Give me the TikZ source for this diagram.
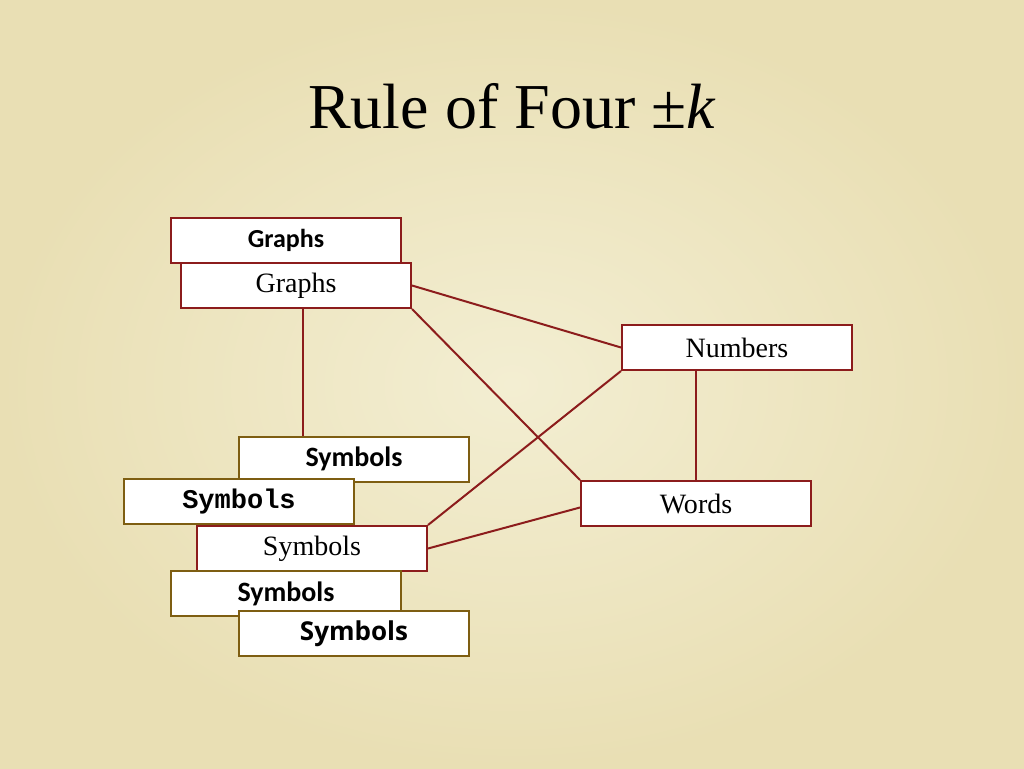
\documentclass[tikz,border=0pt]{standalone}
\usepackage{fontspec}
\setmainfont{Liberation Serif}
\newfontfamily\calibrifont{Carlito}
\newfontfamily\courierfont{Liberation Mono}
\newfontfamily\comicfont{Open Sans}
\definecolor{parchment}{HTML}{F3EED2}
\definecolor{parchmentdark}{HTML}{E9DFB4}
\definecolor{boxred}{HTML}{8C1C1C}
\definecolor{boxolive}{HTML}{7E5E12}
\tikzset{
  box/.style={draw=boxred,line width=2pt,fill=white,minimum width=230pt,minimum height=45pt,inner sep=0pt,font=\fontsize{28}{32}\selectfont},
  olivebox/.style={box,draw=boxolive},
  link/.style={draw=boxred,line width=2pt}
}
\begin{document}
\begin{tikzpicture}[x=1pt,y=-1pt]
    \useasboundingbox (0,0) rectangle (1024,768);
    \shade[inner color=parchment,outer color=parchmentdark] (0,0) rectangle (1024,768);
    \node[anchor=base,font=\fontsize{64}{70}\selectfont] (title) at (512,128) {Rule of Four ±\textit{k}};
    % top left pair
    \node[box,font=\calibrifont\bfseries\fontsize{26}{30}\selectfont] (graphsA) at (286,240) {Graphs};
    \node[box] (graphsB) at (296,285.5) {Graphs};
    % right hand boxes
    \node[box] (numbers) at (737,347.5) {Numbers};
    \node[box] (words) at (696,503.5) {Words};
    % stack of symbols
    \node[olivebox,font=\calibrifont\bfseries\fontsize{28}{32}\selectfont] (symA) at (354,459) {Symbols};
    \node[olivebox,font=\courierfont\bfseries\fontsize{27}{30}\selectfont] (symB) at (239,501.5) {Symbols};
    \node[box] (symC) at (312,548.5) {Symbols};
    \node[olivebox,font=\calibrifont\bfseries\fontsize{28}{32}\selectfont] (symD) at (286,593.5) {Symbols};
    \node[olivebox,font=\comicfont\bfseries\fontsize{26}{30}\selectfont] (symE) at (354,633.5) {Symbols};
    % links
    \draw[link] ([xshift=7pt]graphsB.south) -- ([xshift=7pt]graphsB.south |- symA.north);
    \draw[link] (graphsB.east) -- (numbers.west);
    \draw[link] (graphsB.south east) -- (words.north west);
    \draw[link] (numbers.south west) -- (symC.north east);
    \draw[link] (words.north |- numbers.south) -- (words.north);
    \draw[link] (symC.east) -- ([yshift=-4pt]words.west);
\end{tikzpicture}
\end{document}
